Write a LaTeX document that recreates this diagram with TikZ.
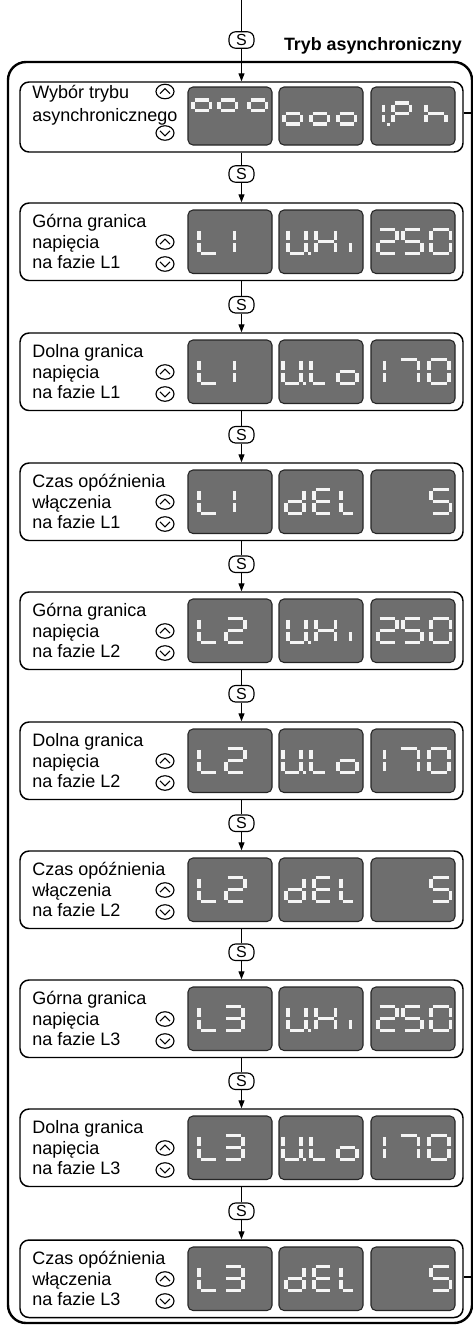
\documentclass[tikz,border=0pt]{standalone}
\usepackage{fontspec}
\setmainfont{Liberation Sans}
\usetikzlibrary{arrows.meta,shapes.geometric}
\definecolor{dispgray}{HTML}{6E6E6E}
\definecolor{segwhite}{HTML}{F4F4F4}
\tikzset{
 rowbox/.style={draw, line width=1.1pt, rounded corners=6.75pt, minimum width=443*0.75pt, inner sep=0pt},
 disp/.style={draw=black!85, fill=dispgray, line width=0.8pt, rounded corners=3.75pt, minimum width=84*0.75pt, inner sep=0pt},
 skey/.style={draw, fill=white, line width=0.85pt, rounded corners=5pt, minimum width=25*0.75pt, minimum height=16.5*0.75pt, inner sep=0pt, font=\fontsize{12}{12}\selectfont},
 btn/.style={draw, line width=0.85pt, ellipse, minimum width=18*0.75pt, minimum height=14.5*0.75pt, inner sep=0pt},
 lbl/.style={anchor=base west, inner sep=0pt, font=\fontsize{13.5}{15}\selectfont},
 segline/.style={draw=segwhite, line width=2.3pt},
 flow/.style={line width=0.8pt},
 flowarrow/.style={flow, -{Triangle[length=6pt,width=4.5pt]}},
 chev/.style={line width=0.8pt},
}
% seven segment drawing
\def\sgma{\draw[segline] (\SX+1.6,\SY) -- (\SX+\SW-1.6,\SY);}
\def\sgmb{\draw[segline] (\SX+\SW,\SY+1.6) -- (\SX+\SW,\SY+\SH/2-1.6);}
\def\sgmc{\draw[segline] (\SX+\SW,\SY+\SH/2+1.6) -- (\SX+\SW,\SY+\SH-1.6);}
\def\sgmd{\draw[segline] (\SX+1.6,\SY+\SH) -- (\SX+\SW-1.6,\SY+\SH);}
\def\sgme{\draw[segline] (\SX,\SY+\SH/2+1.6) -- (\SX,\SY+\SH-1.6);}
\def\sgmf{\draw[segline] (\SX,\SY+1.6) -- (\SX,\SY+\SH/2-1.6);}
\def\sgmg{\draw[segline] (\SX+1.6,\SY+\SH/2) -- (\SX+\SW-1.6,\SY+\SH/2);}
\def\sgmp{\fill[segwhite] (\SX-1.5,\SY+\SH-1.5) rectangle (\SX+1.5,\SY+\SH+1.5);}
\newcommand\SevSeg[5]{\def\SX{#1}\def\SY{#2}\def\SW{#3}\def\SH{#4}%
 \foreach \sgl in {#5}{\csname sgm\sgl\endcsname}}
\newcommand\Dig[3]{\SevSeg{#1}{\DY}{#2}{\DH}{#3}}
\newcommand\UpChev[1]{\draw[chev] ([shift={(-5,2.2)}]#1.center) -- ([shift={(0,-2.8)}]#1.center) -- ([shift={(5,2.2)}]#1.center);}
\newcommand\DownChev[1]{\draw[chev] ([shift={(-5,-2.2)}]#1.center) -- ([shift={(0,2.8)}]#1.center) -- ([shift={(5,-2.2)}]#1.center);}
% a row with three text lines
\newcommand\RowBox[5]{%
 \node[rowbox, minimum height=77.5*0.75pt] (b#1) at (241.5,#2+38.75) {};
 \node[lbl] (t#1a) at (32,#2+24) {#3};
 \node[lbl] (t#1b) at (32,#2+45) {#4};
 \node[lbl] (t#1c) at (32,#2+65) {#5};
 \node[btn] (u#1) at (165,#2+39) {};
 \node[btn] (v#1) at (165,#2+61) {};
 \UpChev{u#1}\DownChev{v#1}
 \node[disp, minimum height=63.5*0.75pt] (d#1a) at (230,#2+38.75) {};
 \node[disp, minimum height=63.5*0.75pt] (d#1b) at (321,#2+38.75) {};
 \node[disp, minimum height=63.5*0.75pt] (d#1c) at (413,#2+38.75) {};
 \def\DY{#2+26.2}\def\DH{24.5}}
% display contents
\newcommand\ChL{\Dig{199}{18.5}{d,e,f}}
\newcommand\ChOne{\Dig{234.5}{0}{e,f}}
\newcommand\ChTwo{\Dig{226}{19}{a,b,g,e,d}}
\newcommand\ChThree{\Dig{224.5}{18.5}{a,b,c,d,g}}
\newcommand\DUH{\Dig{288}{18}{b,c,d,e,f}\Dig{309}{0}{p}\Dig{316}{19.5}{b,c,e,f,g}\Dig{350.5}{0}{e}}
\newcommand\DULo{\Dig{283}{18}{b,c,d,e,f}\Dig{304.5}{0}{p}\Dig{311}{16}{d,e,f}\Dig{338}{19}{c,d,e,g}}
\newcommand\DdEL{\Dig{286}{18}{b,c,d,e,g}\Dig{314}{18}{a,d,e,f,g}\Dig{341}{14}{d,e,f}}
\newcommand\Dtfz{\Dig{378}{19}{a,b,g,e,d}\Dig{403}{19}{a,f,g,c,d}\Dig{431}{19.5}{a,b,c,d,e,f}}
\newcommand\Dosz{\Dig{384.5}{0}{e,f}\Dig{399}{19.5}{a,b,c}\Dig{429}{20}{a,b,c,d,e,f}}
\newcommand\Dfive{\Dig{431}{19.5}{a,f,g,c,d}}
\begin{document}
\begin{tikzpicture}[x=0.75pt,y=-0.75pt]
\useasboundingbox (0,0) rectangle (473,1325);
% outer frame and title
\draw[line width=1.8pt, rounded corners=13.5pt] (8,62) rectangle (472,1323);
\node[anchor=base east, inner sep=0pt, font=\bfseries\fontsize{13.4}{15}\selectfont] (title) at (462,50) {Tryb asynchroniczny};
% row 1
\node[rowbox, minimum height=70*0.75pt] (b1) at (241.5,117) {};
\node[lbl] (t1a) at (32,98) {Wybór trybu};
\node[lbl] (t1b) at (32,121) {asynchronicznego};
\node[btn] (u1) at (165,91.5) {};
\node[btn] (v1) at (165,133) {};
\UpChev{u1}\DownChev{v1}
\node[disp, minimum height=58*0.75pt] (d1a) at (230,116) {};
\node[disp, minimum height=58*0.75pt] (d1b) at (321,116) {};
\node[disp, minimum height=58*0.75pt] (d1c) at (413,116) {};
\def\DY{100}\def\DH{21.6}
\Dig{193}{17.6}{a,b,f,g}\Dig{219}{17.6}{a,b,f,g}\Dig{249}{17.6}{a,b,f,g}
\def\DY{103}\def\DH{21}
\Dig{284}{17.5}{c,d,e,g}\Dig{311}{17.5}{c,d,e,g}\Dig{338}{17.5}{c,d,e,g}
\Dig{383.5}{0}{e,f}\Dig{388.5}{0}{p}\Dig{393}{17.6}{a,b,e,f,g}\Dig{426}{20}{c,e,f,g}
% rows 2..10
\RowBox{2}{203}{Górna granica}{napięcia}{na fazie L1}
\ChL\ChOne\DUH\Dtfz
\RowBox{3}{333}{Dolna granica}{napięcia}{na fazie L1}
\ChL\ChOne\DULo\Dosz
\RowBox{4}{463}{Czas opóźnienia}{włączenia}{na fazie L1}
\ChL\ChOne\DdEL\Dfive
\RowBox{5}{592}{Górna granica}{napięcia}{na fazie L2}
\ChL\ChTwo\DUH\Dtfz
\RowBox{6}{722}{Dolna granica}{napięcia}{na fazie L2}
\ChL\ChTwo\DULo\Dosz
\RowBox{7}{851}{Czas opóźnienia}{włączenia}{na fazie L2}
\ChL\ChTwo\DdEL\Dfive
\RowBox{8}{980}{Górna granica}{napięcia}{na fazie L3}
\ChL\ChThree\DUH\Dtfz
\RowBox{9}{1109}{Dolna granica}{napięcia}{na fazie L3}
\ChL\ChThree\DULo\Dosz
\RowBox{10}{1240}{Czas opóźnienia}{włączenia}{na fazie L3}
\ChL\ChThree\DdEL\Dfive
% S keys
\coordinate (top) at (241.5,0);
\node[skey] (s0) at (241.5,40) {S};
\node[skey] (s1) at (241.5,174) {S};
\node[skey] (s2) at (241.5,304.75) {S};
\node[skey] (s3) at (241.5,434.75) {S};
\node[skey] (s4) at (241.5,564.25) {S};
\node[skey] (s5) at (241.5,693.75) {S};
\node[skey] (s6) at (241.5,823.25) {S};
\node[skey] (s7) at (241.5,952.25) {S};
\node[skey] (s8) at (241.5,1081.25) {S};
\node[skey] (s9) at (241.5,1211.25) {S};
% connectors
\draw[flow] (top) -- (s0.north);
\draw[flowarrow] (s0.south) -- (b1.north);
\foreach \a/\b in {1/2,2/3,3/4,4/5,5/6,6/7,7/8,8/9,9/10}{
 \draw[flow] (b\a.south) -- (s\a.north);
 \draw[flowarrow] (s\a.south) -- (b\b.north);
}
% right exits
\coordinate (r1) at (473,113);
\coordinate (r10) at (473,1277);
\draw[flow] (b1.east |- r1) -- (r1);
\draw[flow] (b10.east |- r10) -- (r10);
\end{tikzpicture}
\end{document}
